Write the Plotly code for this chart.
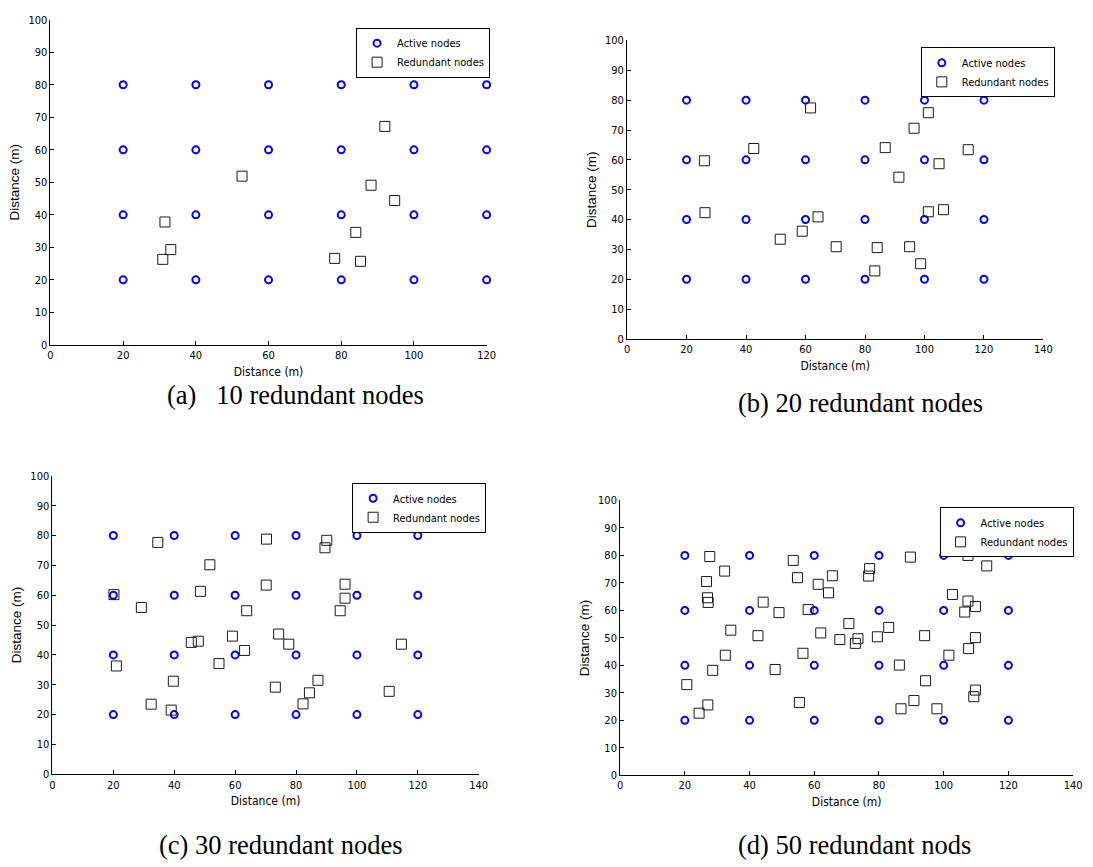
import plotly.graph_objects as go

# ---------------- data ----------------
ACTIVE_GRID_X = [20, 40, 60, 80, 100, 120]
ACTIVE_GRID_Y = [20, 40, 60, 80]

RED_A_X = [31.5, 33.1, 30.9, 52.7, 92.0, 88.2, 94.7, 84.0, 78.2, 85.3]
RED_A_Y = [37.8, 29.3, 26.3, 51.9, 67.2, 49.1, 44.4, 34.6, 26.6, 25.7]

RED_B_X = [61.7, 101.3, 96.5, 42.6, 86.8, 114.7, 26.0, 104.9, 91.4, 26.2,
           64.2, 101.3, 106.4, 58.9, 51.5, 70.3, 84.1, 95.0, 98.7, 83.3]
RED_B_Y = [77.4, 75.8, 70.6, 63.8, 64.1, 63.4, 59.7, 58.7, 54.2, 42.3,
           40.9, 42.6, 43.3, 36.1, 33.4, 30.9, 30.6, 30.9, 25.2, 22.8]

RED_C_X = [34.6, 70.3, 90.1, 89.5, 51.7, 20.2, 48.6, 70.2, 96.1, 96.1,
           29.2, 63.8, 94.5, 59.1, 74.3, 45.6, 47.9, 77.6, 63.1, 114.6,
           21.0, 54.7, 39.7, 73.2, 87.2, 84.4, 110.6, 32.4, 39.0, 82.3]
RED_C_Y = [77.7, 78.8, 78.4, 75.9, 70.2, 60.2, 61.3, 63.4, 63.7, 59.0,
           55.9, 54.8, 54.8, 46.3, 47.0, 44.2, 44.6, 43.6, 41.5, 43.6,
           36.3, 37.1, 31.2, 29.2, 31.5, 27.3, 27.8, 23.5, 21.5, 23.6]

RED_D_X = [27.7, 53.5, 89.7, 107.5, 32.3, 77.1, 113.3, 26.7, 54.8, 65.6,
           76.8, 61.2, 64.4, 27.0, 27.2, 44.2, 102.7, 107.5, 49.1, 58.1,
           106.5, 109.8, 34.2, 42.6, 62.0, 70.7, 67.9, 73.5, 72.7, 79.5,
           83.0, 94.1, 109.8, 107.7, 32.5, 56.5, 101.6, 28.6, 47.9, 86.3,
           20.6, 94.4, 109.8, 109.3, 27.1, 24.4, 55.4, 90.8, 86.8, 97.9]
RED_D_Y = [79.6, 78.2, 79.4, 80.0, 74.3, 75.2, 76.2, 70.5, 71.9, 72.6,
           72.5, 69.5, 66.4, 64.6, 62.9, 63.0, 65.8, 63.4, 59.2, 60.3,
           59.4, 61.4, 52.8, 50.8, 51.8, 55.2, 49.4, 49.7, 48.0, 50.4,
           53.8, 50.8, 50.1, 46.1, 43.7, 44.4, 43.7, 38.2, 38.5, 40.1,
           33.0, 34.4, 31.0, 28.6, 25.6, 22.6, 26.5, 27.2, 24.2, 24.2]

CAPTIONS = ["(a)\u00a0\u00a0\u00a010 redundant nodes", "(b) 20 redundant nodes",
            "(c) 30 redundant nodes", "(d) 50 redundant nods"]
X_MAX = [120, 140, 140, 140]
AXIS_TITLE = "Distance (m)"
LEGEND_NAMES = ["Active nodes", "Redundant nodes"]

# ---------------- layout geometry (pixels) ----------------
W, H = 1093, 867
PANELS = [  # x0, x1, y_top, y_bottom (plot area in px)
    (48, 489, 14, 344),
    (631, 1052, 35, 338),
    (50, 481, 477, 780),
    (624, 1082, 502, 781),
]
LEGEND_POS = [(357, 22), (928, 42), (353, 484), (947, 509)]
CAPTION_POS = [(296, 395), (867, 403), (281, 852), (861, 852)]

active_x = [x for y in ACTIVE_GRID_Y for x in ACTIVE_GRID_X]
active_y = [y for y in ACTIVE_GRID_Y for x in ACTIVE_GRID_X]
red_sets = [(RED_A_X, RED_A_Y), (RED_B_X, RED_B_Y), (RED_C_X, RED_C_Y), (RED_D_X, RED_D_Y)]

NARROW = "Liberation Sans Narrow, Arial Narrow, DejaVu Sans Condensed, Liberation Sans, Arial"
TICK_FONT = dict(family=NARROW, size=11, color="black")
LEG_FONT = dict(family=NARROW, size=11, color="black")

fig = go.Figure()
layout = dict(
    width=W, height=H,
    margin=dict(l=0, r=0, t=0, b=0),
    paper_bgcolor="white", plot_bgcolor="white",
    annotations=[],
)

for i in range(4):
    n = "" if i == 0 else str(i + 1)
    xa, ya = "x" + n, "y" + n
    leg = "legend" if i == 0 else "legend" + str(i + 1)
    rx, ry = red_sets[i]
    fig.add_trace(go.Scatter(
        x=active_x, y=active_y, mode="markers", name=LEGEND_NAMES[0],
        xaxis=xa, yaxis=ya, legend=leg, cliponaxis=False,
        marker=dict(symbol="circle-open", size=7, color="#0000FF", line=dict(width=2, color="#0000FF")),
    ))
    fig.add_trace(go.Scatter(
        x=rx, y=ry, mode="markers", name=LEGEND_NAMES[1],
        xaxis=xa, yaxis=ya, legend=leg, cliponaxis=False,
        marker=dict(symbol="square-open", size=10, color="#1a1a1a", line=dict(width=1, color="#1a1a1a")),
    ))
    x0, x1, yt, yb = PANELS[i]
    common = dict(showgrid=False, zeroline=False, showline=True, linecolor="black", linewidth=1,
                  ticks="inside", ticklen=4, tickcolor="black", tickfont=TICK_FONT, mirror=False)
    layout["xaxis" + n] = dict(
        domain=[x0 / W, x1 / W], anchor=ya, range=[0, X_MAX[i]], tickmode="linear", tick0=0, dtick=20,
        title=dict(text=AXIS_TITLE, font=dict(family=NARROW, size=12, color="black"), standoff=6), **common)
    layout["yaxis" + n] = dict(
        domain=[1 - yb / H, 1 - yt / H], anchor=xa, range=[0, 100], tickmode="linear", tick0=0, dtick=10,
        title=dict(text=AXIS_TITLE, font=dict(family="Liberation Sans, Arial", size=13.5, color="black"), standoff=5),
        **common)
    lx, ly = LEGEND_POS[i]
    layout[leg] = dict(
        x=lx / W, y=1 - ly / H, xanchor="left", yanchor="top", xref="paper", yref="paper",
        bgcolor="white", bordercolor="black", borderwidth=1,
        font=LEG_FONT, tracegroupgap=0, itemwidth=30,
    )
    cx, cy = CAPTION_POS[i]
    layout["annotations"].append(dict(
        text=CAPTIONS[i], x=cx / W, y=1 - cy / H, xref="paper", yref="paper",
        xanchor="center", yanchor="middle", showarrow=False,
        font=dict(family="Liberation Serif, Times New Roman, serif", size=26.5, color="black"),
    ))

fig.update_layout(**layout)
fig.update_layout(showlegend=True)
fig.write_html("out.html", config={"displayModeBar": False},
               post_script="document.body.style.margin='0';document.body.style.overflow='hidden';")
